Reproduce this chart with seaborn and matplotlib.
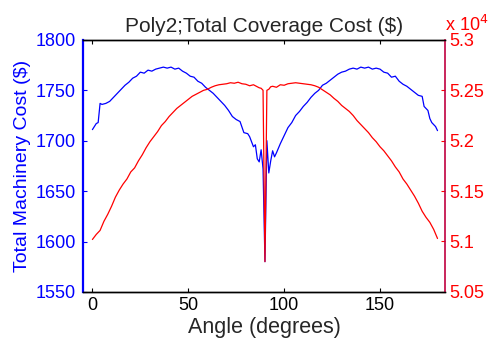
import matplotlib
matplotlib.use("Agg")
import matplotlib.pyplot as plt
import seaborn as sns
from matplotlib.ticker import FuncFormatter

# blue series: machinery cost vs angle
angle_machinery = [0, 1, 2, 3, 4, 5, 7, 9, 11, 13, 15, 17, 19, 21, 23, 25, 27, 29, 31, 33,
                   35, 37, 39, 41, 43, 45, 47, 49, 51, 53, 55, 57, 59, 61, 63, 65, 67, 69, 71, 73,
                   75, 77, 79, 81, 82, 84, 85, 86, 87, 88, 89, 90, 91, 92, 93, 94, 95, 96, 98, 100,
                   102, 104, 106, 108, 110, 112, 114, 116, 118, 120, 122, 124, 126, 128, 130, 132,
                   134, 136, 138, 140, 142, 144, 146, 148, 150, 152, 154, 156, 158, 160, 162, 164,
                   166, 168, 170, 172, 173, 175, 176, 177, 179, 180]
machinery_cost = [1711, 1714, 1717, 1718, 1737, 1736, 1737, 1739, 1743, 1747, 1751, 1755, 1758, 1762,
                  1764, 1768, 1767, 1770, 1769, 1771, 1772, 1773, 1772, 1773, 1771, 1772, 1769, 1767,
                  1764, 1763, 1759, 1757, 1753, 1750, 1747, 1743, 1739, 1735, 1730, 1724, 1721, 1719,
                  1708, 1707, 1704, 1694, 1696, 1682, 1679, 1691, 1672, 1580, 1700, 1668, 1680, 1690,
                  1684, 1688, 1697, 1705, 1713, 1718, 1725, 1729, 1734, 1738, 1743, 1747, 1750, 1755,
                  1757, 1760, 1763, 1766, 1768, 1769, 1771, 1772, 1771, 1773, 1772, 1773, 1771, 1772,
                  1771, 1768, 1767, 1763, 1764, 1759, 1756, 1754, 1751, 1748, 1745, 1744, 1734, 1730,
                  1722, 1718, 1714, 1710]

# red series: total coverage cost vs angle
angle_coverage = [0, 2, 4, 6, 8, 10, 12, 14, 16, 18, 20, 22, 24, 26, 28, 30, 32, 34, 36, 38,
                  40, 42, 44, 46, 48, 50, 52, 54, 56, 58, 60, 62, 64, 66, 68, 70, 72, 74, 76, 78,
                  80, 82, 84, 86, 87, 88, 89, 90, 91, 92, 93, 94, 96, 98, 100, 102, 104, 106, 108,
                  110, 112, 114, 116, 118, 120, 122, 124, 126, 128, 130, 132, 134, 136, 138, 140,
                  142, 144, 146, 148, 150, 152, 154, 156, 158, 160, 162, 164, 166, 168, 170, 172,
                  174, 176, 178, 180]
coverage_cost = [51020, 51070, 51110, 51200, 51270, 51350, 51440, 51510, 51570, 51620, 51690, 51730,
                 51800, 51860, 51930, 51990, 52040, 52090, 52150, 52190, 52240, 52280, 52320, 52350,
                 52380, 52410, 52440, 52460, 52480, 52500, 52510, 52530, 52545, 52555, 52560, 52565,
                 52575, 52570, 52580, 52565, 52560, 52545, 52555, 52535, 52525, 52520, 52500, 50800,
                 52500, 52510, 52535, 52540, 52530, 52555, 52550, 52565, 52570, 52575, 52570, 52565,
                 52560, 52555, 52545, 52530, 52505, 52480, 52455, 52420, 52390, 52350, 52320, 52290,
                 52250, 52200, 52160, 52120, 52080, 52030, 51990, 51940, 51900, 51850, 51800, 51740,
                 51690, 51620, 51570, 51510, 51450, 51380, 51300, 51240, 51190, 51120, 51030]

left_ticks = [1550, 1600, 1650, 1700, 1750, 1800]
right_ticks = [50500, 51000, 51500, 52000, 52500, 53000]
x_ticks = [0, 50, 100, 150]

sns.set_style("white")
plt.rcParams['font.family'] = ['Liberation Sans', 'DejaVu Sans']

fig = plt.figure(figsize=(4.93, 3.5), dpi=100)
ax = fig.add_axes([0.168, 0.166, 0.735, 0.72])
sns.lineplot(x=angle_machinery, y=machinery_cost, ax=ax, color='#0000ff', linewidth=0.9, sort=False)
ax2 = ax.twinx()
sns.lineplot(x=angle_coverage, y=coverage_cost, ax=ax2, color='#ff0000', linewidth=0.9, sort=False)

ax.set_xlim(-5, 184)
ax.set_ylim(1550, 1800)
ax2.set_ylim(50500, 53000)
ax.set_xticks(x_ticks)
ax.set_yticks(left_ticks)
ax2.set_yticks(right_ticks)
ax2.yaxis.set_major_formatter(FuncFormatter(lambda v, p: f"{v / 1e4:g}"))

fs = 13
ax.tick_params(axis='x', direction='in', length=3, labelsize=fs, colors='black', top=True, bottom=True, pad=4)
ax.tick_params(axis='y', direction='in', length=3, labelsize=fs, colors='#0000ff', pad=5)
ax2.tick_params(axis='y', direction='in', length=3, labelsize=fs, colors='#ff0000', pad=3)

for a in (ax, ax2):
    for s in a.spines.values():
        s.set_linewidth(1.0)
        s.set_color('black')
ax.spines['left'].set_color('#0000ff')
ax.spines['left'].set_linewidth(1.6)
ax2.spines['left'].set_visible(False)
ax2.spines['right'].set_color('#c0003f')
ax2.spines['right'].set_linewidth(1.2)
ax.spines['right'].set_visible(False)

ax.set_xlabel('Angle (degrees)', fontsize=15.5, labelpad=2)
ax.set_ylabel('Total Machinery Cost ($)', fontsize=14, color='#0000ff', labelpad=3)
ax2.set_ylabel('')
ax.set_title('Poly2;Total Coverage Cost ($)', fontsize=15, pad=6)
ax2.text(1.0, 1.02, 'x 10$^{4}$', transform=ax2.transAxes, color='#ff0000', fontsize=fs,
         ha='left', va='bottom')

fig.savefig("out.png", dpi=100)
plt.close(fig)
